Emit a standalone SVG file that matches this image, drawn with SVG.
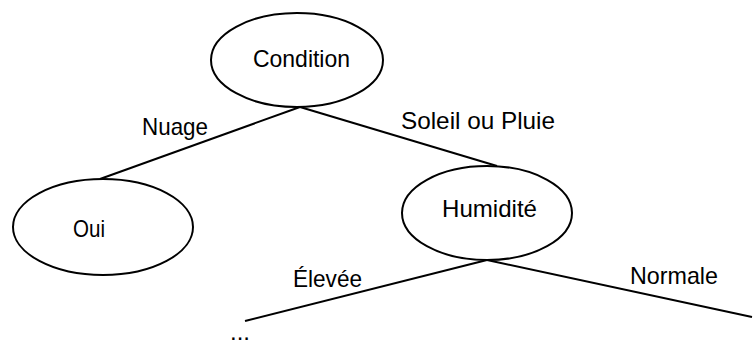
<svg xmlns="http://www.w3.org/2000/svg" width="753" height="344" viewBox="0 0 753 344">
<style>
.node{fill:#fff;stroke:#000;stroke-width:2}
.edge{stroke:#000;stroke-width:2;fill:none}
text{font-family:"Liberation Sans",Arial,sans-serif;font-size:24px;fill:#000}
</style>
<rect width="753" height="344" fill="#fff"/>
<g id="connectors">
<line class="edge" x1="300" y1="107" x2="100" y2="179"/>
<line class="edge" x1="300" y1="107" x2="497" y2="166"/>
<line class="edge" x1="487" y1="260" x2="245" y2="321"/>
<line class="edge" x1="487" y1="260" x2="752" y2="317"/>
<text x="142" y="135" textLength="66" lengthAdjust="spacingAndGlyphs">Nuage</text>
<text x="401" y="129" textLength="154" lengthAdjust="spacingAndGlyphs">Soleil ou Pluie</text>
<text x="293" y="287" textLength="69" lengthAdjust="spacingAndGlyphs">Élevée</text>
<text x="630" y="284" textLength="88" lengthAdjust="spacingAndGlyphs">Normale</text>
</g>
<g id="condition">
<ellipse class="node" cx="297" cy="60" rx="86" ry="47"/>
<text x="253" y="67" textLength="97" lengthAdjust="spacingAndGlyphs">Condition</text>
</g>
<g id="oui">
<ellipse class="node" cx="103" cy="227" rx="90" ry="48"/>
<text x="73" y="237" textLength="32" lengthAdjust="spacingAndGlyphs">Oui</text>
</g>
<g id="humidite">
<ellipse class="node" cx="487" cy="213" rx="85" ry="47"/>
<text x="442" y="217" textLength="95" lengthAdjust="spacingAndGlyphs">Humidité</text>
</g>
<g id="more">
<text x="230" y="340">...</text>
</g>
</svg>
